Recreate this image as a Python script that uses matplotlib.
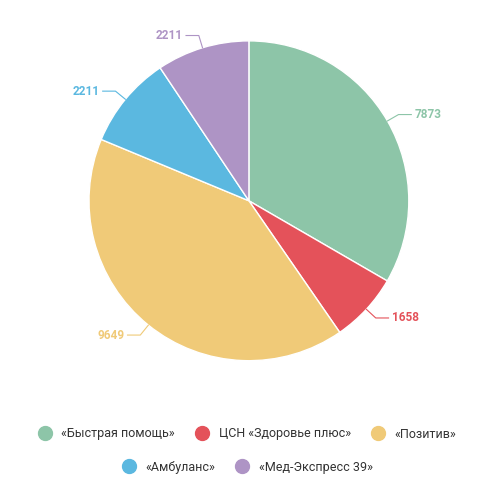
import matplotlib
matplotlib.use("Agg")
import matplotlib.pyplot as plt
import numpy as np
from matplotlib.lines import Line2D

plt.rcParams['font.family'] = ['Roboto', 'DejaVu Sans']

labels = ["«Быстрая помощь»", "ЦСН «Здоровье плюс»", "«Позитив»", "«Амбуланс»", "«Мед-Экспресс 39»"]
values = [7873, 1658, 9649, 2211, 2211]
colors = ["#8dc5a8", "#e4525a", "#f0ca78", "#5bb8e0", "#ae94c5"]

fig = plt.figure(figsize=(4.89, 4.97), dpi=100)
ax = fig.add_axes([0.182, 0.274, 0.654, 0.644])
wedges, _ = ax.pie(values, colors=colors, startangle=90, counterclock=False,
                   wedgeprops=dict(edgecolor='white', linewidth=1))
ax.set_aspect('equal')
ax.set_xlim(-1, 1); ax.set_ylim(-1, 1)

for w, v, c in zip(wedges, values, colors):
    ang = np.deg2rad((w.theta1 + w.theta2) / 2)
    x, y = np.cos(ang), np.sin(ang)
    ex, ey = 1.08 * x, 1.08 * y
    sgn = 1 if x >= 0 else -1
    tx = ex + sgn * 0.08
    ax.plot([x, ex, tx], [y, ey, ey], color=c, lw=0.8, clip_on=False)
    ax.text(tx + sgn * 0.02, ey, str(v), color=c, fontsize=8.5, fontweight='bold',
            ha='left' if sgn > 0 else 'right', va='center')

def handles(idx):
    return [Line2D([], [], marker='o', ls='', markersize=10, markerfacecolor=colors[i],
                   markeredgecolor=colors[i]) for i in idx]

kw = dict(frameon=False, fontsize=9, handletextpad=0.3, columnspacing=1.2, loc='center')
l1 = fig.legend(handles([0, 1, 2]), labels[:3], ncol=3, bbox_to_anchor=(0.5, 1 - 434 / 497), **kw)
l2 = fig.legend(handles([3, 4]), labels[3:], ncol=2, bbox_to_anchor=(0.5, 1 - 467 / 497), **kw)
for l in (l1, l2):
    for t in l.get_texts():
        t.set_color('#333333')
fig.savefig("out.png", dpi=100)
